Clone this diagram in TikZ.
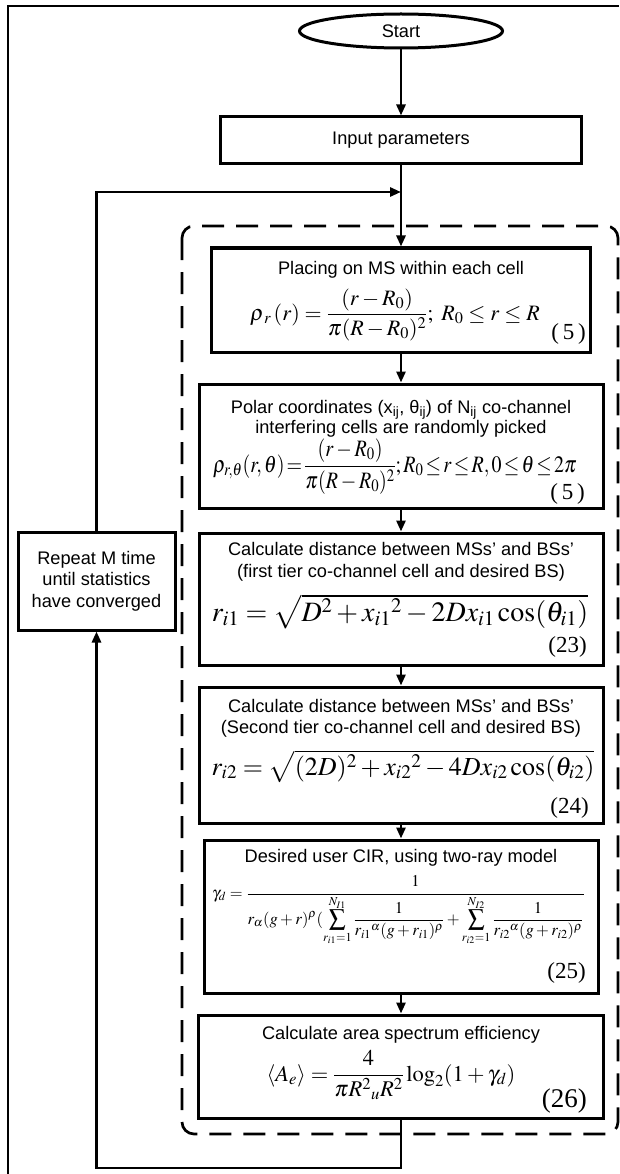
\documentclass[tikz,border=0pt]{standalone}
\usepackage{amsmath}
\usepackage{mathptmx}
\usepackage[no-math]{fontspec}
\setmainfont{Liberation Serif}
\setsansfont{Liberation Sans}
\usepackage{tikz}
\usetikzlibrary{positioning}
\usetikzlibrary{arrows.meta}
\usetikzlibrary{shapes.geometric}

\begin{document}
\begin{tikzpicture}[x=1pt,y=-1pt,every node/.style={inner sep=0pt},
box/.style={draw,line width=3pt,minimum width=404pt},
line/.style={line width=2.7pt},
arr/.style={line,-{Triangle[length=11pt,width=9pt]}},
loopbox/.style={line width=2.7pt,dash pattern=on 22pt off 12pt,rounded corners=12pt},
txt/.style={font=\sffamily\fontsize{18.2}{21.5}\selectfont,align=center},
eq/.style={font=\fontsize{22}{26}\selectfont,anchor=base},
eqno/.style={font=\fontsize{23}{26}\selectfont,anchor=base east}]
\useasboundingbox (0,0) rectangle (619,1174);
\draw[line width=2.7pt] (8,1174) -- (8,6) -- (619,6);

\node[draw,ellipse,line width=3pt,minimum width=203pt,minimum height=34pt,txt] (start) at (401,31) {Start};
\node[box,txt,minimum width=361pt,minimum height=47pt] (input) at (401,140.5) {Input parameters};

\draw[loopbox] (182,226) rectangle (618,1134);

\node[box,minimum width=379pt,minimum height=104pt] (place) at (401,300) {};
\node[box,minimum height=124pt] (polar) at (401,446) {};
\node[box,minimum height=132pt] (dist1) at (401,599) {};
\node[box,minimum height=136pt] (dist2) at (401,755) {};
\node[box,minimum width=394pt,minimum height=153pt] (cir) at (401,916.5) {};
\node[box,minimum width=405pt,minimum height=103pt] (ase) at (401,1066.5) {};
\node[box,txt,minimum width=157pt,minimum height=98pt] (rpt) at (96.5,581) {Repeat M time\\until statistics\\have converged};

% box contents
\node[txt,anchor=base] (placeT) at (401,274) {Placing on MS within each cell};
\node[eq] (placeF) at (395,320) {$\rho_{\,r}\,(r)=\dfrac{(r-R_0)}{\pi(R-R_0)^2};\ R_0\le r\le R$};
\node[eqno] (placeN) at (586,339) {(\,5\,)};

\node[txt,anchor=base] (polarT1) at (401,413) {Polar coordinates (x\textsubscript{ij}, θ\textsubscript{ij}) of N\textsubscript{ij} co-channel};
\node[txt,anchor=base] (polarT2) at (401,433) {interfering cells are randomly picked};
\node[eq,font=\fontsize{23.5}{27}\selectfont] (polarF) at (395,472) {\scalebox{0.85}[1]{$\rho_{r,\theta}(r,\theta)\!=\!\dfrac{(r-R_0)}{\pi(R-R_0)^2};R_0\!\le\! r\!\le\! R,0\!\le\!\theta\!\le\!2\pi$}};
\node[eqno] (polarN) at (585,499) {(\,5\,)};

\node[txt,anchor=base] (dist1T1) at (401,555) {Calculate distance between MSs’ and BSs’};
\node[txt,anchor=base] (dist1T2) at (401,577) {(first tier co-channel cell and desired BS)};
\node[eq,font=\fontsize{28}{32}\selectfont] (dist1F) at (400,621) {$r_{i1}=\sqrt{D^2+{x_{i1}}^2-2Dx_{i1}\cos(\theta_{i1})}$};
\node[eqno] (dist1N) at (587,652) {(23)};

\node[txt,anchor=base] (dist2T1) at (401,712) {Calculate distance between MSs’ and BSs’};
\node[txt,anchor=base] (dist2T2) at (401,733) {(Second tier co-channel cell and desired BS)};
\node[eq,font=\fontsize{26}{30}\selectfont] (dist2F) at (403,775) {$r_{i2}=\sqrt{(2D)^2+{x_{i2}}^2-4Dx_{i2}\cos(\theta_{i2})}$};
\node[eqno] (dist2N) at (589,813) {(24)};

\node[txt,anchor=base] (cirT) at (401,862) {Desired user CIR, using two-ray model};
\node[eq,font=\fontsize{16.5}{20}\selectfont,anchor=base west] (cirF) at (212,898) {$\gamma_d=\dfrac{1}{\displaystyle r_\alpha(g+r)^\rho(\sum_{r_{i1}=1}^{N_{I1}}\frac{1}{{r_{i1}}^{\alpha}(g+r_{i1})^{\rho}}+\sum_{r_{i2}=1}^{N_{I2}}\frac{1}{{r_{i2}}^{\alpha}(g+r_{i2})^{\rho}}}$};
\node[eqno] (cirN) at (586,978) {(25)};

\node[txt,anchor=base] (aseT) at (401,1039) {Calculate area spectrum efficiency};
\node[eq,font=\fontsize{22.5}{26}\selectfont] (aseF) at (391,1081) {$\langle A_e\rangle=\dfrac{4}{\pi R^2{}_uR^2}\log_2(1+\gamma_d)$};
\node[eqno,font=\fontsize{27}{30}\selectfont] (aseN) at (587,1107) {(26)};

% connectors
\draw[arr] (start) -- (input);
\draw[arr] (input) -- (place);
\draw[arr] (place) -- (polar);
\draw[arr] (polar) -- (dist1);
\draw[arr] (dist1) -- (dist2);
\draw[arr] (dist2) -- (cir);
\draw[arr] (cir) -- (ase);
\coordinate (join) at (401,192);
\coordinate (back) at (96.5,1168);
\draw[arr] (rpt.north) |- (join);
\draw[arr] (ase.south) |- (back) -- (rpt.south);
\end{tikzpicture}
\end{document}
